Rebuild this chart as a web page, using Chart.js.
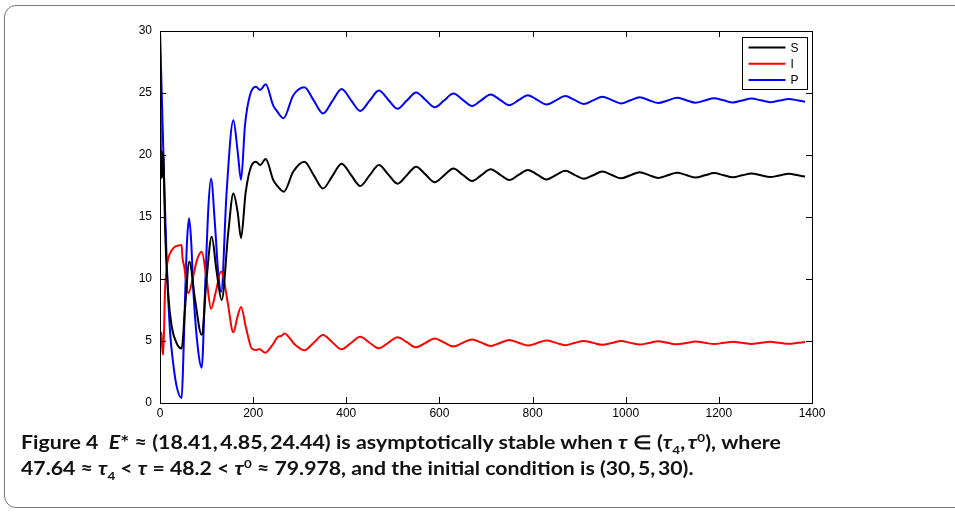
<!DOCTYPE html>
<html>
<head>
<meta charset="utf-8">
<script src="https://cdn.jsdelivr.net/npm/chart.js@4"></script>
<style>
  html, body { margin: 0; padding: 0; background: #fff; }
  #wrap { position: relative; width: 955px; height: 512px; overflow: hidden; }
  #box { position: absolute; left: 4px; top: 5px; width: 1000px; height: 501px;
         border: 1.5px solid #7a7a7a; border-radius: 12px; }
  #myChart { position: absolute; left: 0; top: 0; }
  .ln { position: absolute; left: 21px; white-space: nowrap; font-weight: bold;
        font-family: "Lato", "Liberation Sans", sans-serif;
        font-size: 19px; line-height: 20px; color: #111; transform-origin: 0 0; }
  .ln sub, .ln sup { font-size: 12px; line-height: 0; }
  #l1 { top: 432px; }
  #l2 { top: 458px; }
</style>
</head>
<body>
<div id="wrap">
  <div id="box"></div>
  <canvas id="myChart" width="955" height="512"></canvas>
  <div class="ln" id="l1">Figure 4&nbsp;&nbsp;<i>E</i>* ≈ (18.41,&thinsp;4.85,&thinsp;24.44) is asymptotically stable when <i>τ</i> ∈ (<i>τ</i><sub>4</sub>,&thinsp;<i>τ</i><sup>0</sup>), where</div>
  <div class="ln" id="l2">47.64 ≈ <i>τ</i><sub>4</sub> &lt; <i>τ</i> = 48.2 &lt; <i>τ</i><sup>0</sup> ≈ 79.978, and the initial condition is (30,&thinsp;5,&thinsp;30).</div>
</div>
<script>
// time points after the transient (shared by all three curves)
const tTail = [310, 330, 350, 370, 390, 410, 430, 450, 470, 490, 510, 530, 550, 570, 590, 610, 630, 650, 670, 690,
  710, 730, 750, 770, 790, 810, 830, 850, 870, 890, 910, 930, 950, 970, 990, 1010, 1030, 1050, 1070, 1090,
  1110, 1130, 1150, 1170, 1190, 1210, 1230, 1250, 1270, 1290, 1310, 1330, 1350, 1370, 1385];

// S (black)
const tS = [0, 2.5, 4, 5.5, 7, 8.5, 10.7, 18, 25, 36, 46.5, 53.7, 63, 75, 89.5, 100, 111, 121.6, 132.4, 146.7,
  157.5, 166.7, 174, 184, 197, 206, 215, 227, 243, 250, 266, 286];
const sHead = [30, 18.1, 20.3, 18.2, 20.1, 18.4, 14.4, 8.6, 6.2, 4.8, 4.4, 7.6, 11.4, 8.4, 5.5, 10, 13.4, 10.6, 8.3, 13.8,
  16.9, 15.4, 13.3, 17.0, 19.2, 19.46, 19.2, 19.68, 18.0, 17.6, 17.04, 18.65];
const sTail = [19.46, 18.38, 17.30, 18.30, 19.30, 18.40, 17.50, 18.35, 19.19, 18.44, 17.68, 18.37, 19.06, 18.43, 17.80, 18.36,
  18.92, 18.41, 17.90, 18.38, 18.86, 18.42, 17.98, 18.39, 18.80, 18.42, 18.03, 18.38, 18.72, 18.40, 18.08, 18.37,
  18.66, 18.39, 18.12, 18.37, 18.61, 18.38, 18.15, 18.36, 18.57, 18.38, 18.18, 18.36, 18.54, 18.37, 18.20, 18.36,
  18.51, 18.37, 18.22, 18.35, 18.48, 18.36, 18.26];

// I (red)
const tI = [0, 1, 3, 5, 7, 10.7, 14, 18, 25, 32, 40, 46.5, 48, 52, 61, 70, 80, 89.5, 100, 109.5, 120, 131, 134, 145,
  157.5, 166, 174, 185, 197, 206, 213, 225.5, 240, 254, 260, 267, 290];
const iHead = [5, 5.7, 5.6, 4.3, 3.9, 9, 10.8, 11.7, 12.3, 12.6, 12.7, 12.75, 11.8, 11.0, 8.85, 10.0, 11.6, 12.2, 10.0, 7.6,
  9.0, 10.6, 10.5, 8.2, 5.7, 6.9, 7.75, 6.0, 4.4, 4.27, 4.35, 4.06, 4.6, 5.35, 5.4, 5.6, 4.7];
const iTail = [4.25, 4.86, 5.48, 4.90, 4.33, 4.84, 5.35, 4.86, 4.41, 4.85, 5.30, 4.90, 4.49, 4.85, 5.21, 4.88,
  4.56, 4.85, 5.13, 4.87, 4.60, 4.84, 5.08, 4.86, 4.63, 4.84, 5.04, 4.85, 4.66, 4.84, 5.01, 4.85,
  4.69, 4.84, 4.99, 4.85, 4.71, 4.84, 4.97, 4.85, 4.73, 4.84, 4.95, 4.85, 4.75, 4.85, 4.94, 4.85,
  4.76, 4.85, 4.93, 4.85, 4.77, 4.85, 4.91];

// P (blue)
const tP = [0, 3.6, 9.3, 14.3, 21.5, 28, 36, 46.5, 50, 53.7, 58, 62.5, 67, 72, 82, 89.5, 96.6, 103.8, 109.5, 118, 125,
  131.5, 143, 157.5, 166.7, 174, 182.5, 193, 206, 215, 227, 243, 250, 265, 286];
const pHead = [30, 25.1, 17.5, 11.5, 5.8, 3.3, 1.3, 0.4, 3.5, 8.3, 13, 14.9, 13, 8.8, 4.2, 2.85, 9, 15.7, 18.1, 14.4, 10.5,
  8.98, 17, 22.8, 20.3, 18.0, 22.4, 24.8, 25.5, 25.25, 25.7, 24.0, 23.6, 22.96, 24.8];
const pTail = [25.46, 24.40, 23.35, 24.35, 25.32, 24.43, 23.55, 24.38, 25.20, 24.46, 23.72, 24.39, 25.05, 24.45, 23.85, 24.40,
  24.95, 24.45, 23.95, 24.42, 24.88, 24.45, 24.02, 24.42, 24.82, 24.45, 24.07, 24.41, 24.75, 24.44, 24.12, 24.41,
  24.70, 24.43, 24.16, 24.41, 24.65, 24.42, 24.19, 24.40, 24.61, 24.42, 24.22, 24.40, 24.58, 24.41, 24.24, 24.40,
  24.55, 24.41, 24.26, 24.39, 24.52, 24.40, 24.29];

const xTicks = [0, 200, 400, 600, 800, 1000, 1200, 1400];
const yTicks = [0, 5, 10, 15, 20, 25, 30];

function pts(ts, head, tail) {
    const all = ts.concat(tTail);
    const vals = head.concat(tail);
    return all.map((t, i) => ({ x: t, y: vals[i] }));
}

const tickFont = { family: "'Liberation Sans', Arial, sans-serif", size: 12 };

// box, inward ticks and legend drawn like the MATLAB figure
const frame = {
    id: 'frame',
    afterDraw(chart) {
        const { ctx, chartArea: a, scales: { x, y } } = chart;
        ctx.save();
        ctx.strokeStyle = '#000';
        ctx.lineWidth = 1;
        ctx.strokeRect(Math.round(a.left) + 0.5, Math.round(a.top) + 0.5, Math.round(a.width), Math.round(a.height));
        ctx.beginPath();
        xTicks.forEach(v => {
            const px = Math.round(x.getPixelForValue(v)) + 0.5;
            ctx.moveTo(px, a.bottom); ctx.lineTo(px, a.bottom - 6);
            ctx.moveTo(px, a.top); ctx.lineTo(px, a.top + 6);
        });
        yTicks.forEach(v => {
            const py = Math.round(y.getPixelForValue(v)) + 0.5;
            ctx.moveTo(a.left, py); ctx.lineTo(a.left + 6, py);
            ctx.moveTo(a.right, py); ctx.lineTo(a.right - 6, py);
        });
        ctx.stroke();

        // legend
        const bx = Math.round(a.right) - 69.5, by = Math.round(a.top) + 6.5, bw = 65, bh = 52;
        ctx.fillStyle = '#fff';
        ctx.fillRect(bx, by, bw, bh);
        ctx.strokeRect(bx, by, bw, bh);
        ctx.font = "12px 'Liberation Sans', Arial, sans-serif";
        ctx.textBaseline = 'middle';
        chart.data.datasets.forEach((ds, i) => {
            const ly = by + 10 + i * 16.3;
            ctx.strokeStyle = ds.borderColor;
            ctx.lineWidth = 2;
            ctx.beginPath();
            ctx.moveTo(bx + 6, ly); ctx.lineTo(bx + 43, ly);
            ctx.stroke();
            ctx.fillStyle = '#000';
            ctx.fillText(ds.label, bx + 48, ly + 1);
        });
        ctx.restore();
    }
};

document.addEventListener("DOMContentLoaded", () => {
    const ctx = document.getElementById('myChart').getContext('2d');
    const line = (label, data, color) => ({
        label: label,
        data: data,
        borderColor: color,
        borderWidth: 2,
        pointRadius: 0,
        fill: false,
        cubicInterpolationMode: 'monotone'
    });

    new Chart(ctx, {
        type: 'line',
        data: {
            datasets: [
                line('S', pts(tS, sHead, sTail), '#000000'),
                line('I', pts(tI, iHead, iTail), '#ff0000'),
                line('P', pts(tP, pHead, pTail), '#0000ff')
            ]
        },
        options: {
            responsive: false,
            animation: false,
            layout: { padding: { left: 100, top: 31, right: 143, bottom: 80 } },
            plugins: {
                legend: { display: false },
                tooltip: { enabled: false }
            },
            scales: {
                x: {
                    type: 'linear', min: 0, max: 1400,
                    afterBuildTicks: s => { s.ticks = xTicks.map(v => ({ value: v })); },
                    afterFit: s => { s.height = 29; },
                    ticks: { font: tickFont, color: '#000', padding: 3, maxRotation: 0, autoSkip: false,
                             callback: v => String(v) },
                    grid: { display: false, drawTicks: false },
                    border: { display: false }
                },
                y: {
                    min: 0, max: 30,
                    afterBuildTicks: s => { s.ticks = yTicks.map(v => ({ value: v })); },
                    afterFit: s => { s.width = 60; },
                    ticks: { font: tickFont, color: '#000', padding: 8, callback: v => String(v) },
                    grid: { display: false, drawTicks: false },
                    border: { display: false }
                }
            }
        },
        plugins: [frame]
    });

    // squeeze the caption lines to the widths they have in the figure
    [['l1', 760], ['l2', 672]].forEach(([id, w]) => {
        const el = document.getElementById(id);
        el.style.transform = 'scaleX(' + (w / el.scrollWidth) + ')';
    });
});
</script>
</body>
</html>
